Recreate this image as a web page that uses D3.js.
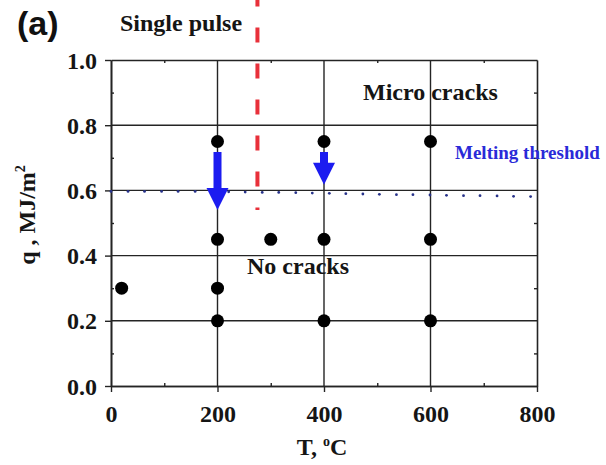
<!DOCTYPE html>
<html>
<head>
<meta charset="utf-8">
<script src="https://cdn.jsdelivr.net/npm/d3@7"></script>
<style>
  html, body { margin: 0; padding: 0; background: #fff; }
  svg { display: block; }
  text { font-family: "Liberation Serif", "Times New Roman", serif; font-weight: bold; }
  text.panel { font-family: "Liberation Sans", Arial, sans-serif; }
</style>
</head>
<body>
<svg id="chart" width="606" height="465"></svg>
<script>
// Crack map: heat flux q vs base temperature T
const xTicks = [0, 200, 400, 600, 800];
const yTicks = [0.0, 0.2, 0.4, 0.6, 0.8, 1.0];
const xMinor = [100, 300, 500, 700];
const yMinor = [0.1, 0.3, 0.5, 0.7, 0.9];
const gridT = [200, 400, 600];
const gridQ = [0.2, 0.4, 0.6, 0.8];

// tested conditions
const pointT = [20, 200, 200, 200, 200, 300, 400, 400, 400, 600, 600, 600];
const pointQ = [0.3, 0.2, 0.3, 0.45, 0.75, 0.45, 0.2, 0.45, 0.75, 0.2, 0.45, 0.75];

// melting threshold markers
const meltT = [0, 32, 63, 95, 126, 158, 189, 221, 252, 284, 315, 347, 378, 410, 441, 473, 504, 536, 567, 599, 630, 662, 693, 725, 756, 788];
const meltQ = [0.600, 0.600, 0.600, 0.600, 0.600, 0.600, 0.600, 0.599, 0.598, 0.597, 0.597, 0.596, 0.595, 0.594, 0.593, 0.592, 0.591, 0.590, 0.590, 0.589, 0.588, 0.587, 0.587, 0.586, 0.585, 0.584];

// shift of the melting boundary
const arrowT = [200, 400];
const arrowFrom = [0.718, 0.718];
const arrowTo = [0.54, 0.617];

// single pulse limit
const pulseT = 275;
const pulseQ = [1.21, 0.54];

const svg = d3.select("#chart");
const m = { left: 111, right: 537, top: 60, bottom: 386 };
const x = d3.scaleLinear().domain([0, 800]).range([m.left, m.right]);
const y = d3.scaleLinear().domain([0, 1]).range([m.bottom, m.top]);

const ink = "#242424";
const textInk = "#151515";

// grid
svg.append("g").selectAll("line").data(gridT).join("line")
  .attr("x1", d => x(d)).attr("x2", d => x(d)).attr("y1", m.top).attr("y2", m.bottom)
  .attr("stroke", ink).attr("stroke-width", 1.4);
svg.append("g").selectAll("line").data(gridQ).join("line")
  .attr("y1", d => y(d)).attr("y2", d => y(d)).attr("x1", m.left).attr("x2", m.right)
  .attr("stroke", ink).attr("stroke-width", 1.4);

// axes
const fmtY = d3.format(".1f");
const axB = svg.append("g").attr("transform", `translate(0,${m.bottom})`)
  .call(d3.axisBottom(x).tickValues(xTicks).tickSize(6).tickSizeOuter(0).tickFormat(d3.format("d")));
const axL = svg.append("g").attr("transform", `translate(${m.left},0)`)
  .call(d3.axisLeft(y).tickValues(yTicks).tickSize(6).tickSizeOuter(0).tickFormat(fmtY));
const axT = svg.append("g").attr("transform", `translate(0,${m.top})`)
  .call(d3.axisTop(x).tickValues(xMinor).tickSize(-3).tickSizeOuter(0).tickFormat(""));
const axR = svg.append("g").attr("transform", `translate(${m.right},0)`)
  .call(d3.axisRight(y).tickValues(yMinor).tickSize(-3).tickSizeOuter(0).tickFormat(""));
const axBm = svg.append("g").attr("transform", `translate(0,${m.bottom})`)
  .call(d3.axisBottom(x).tickValues(xMinor).tickSize(-3).tickSizeOuter(0).tickFormat(""));
const axLm = svg.append("g").attr("transform", `translate(${m.left},0)`)
  .call(d3.axisLeft(y).tickValues(yMinor).tickSize(-3).tickSizeOuter(0).tickFormat(""));

[axB, axL, axT, axR, axBm, axLm].forEach(g => {
  g.select(".domain").attr("stroke", ink).attr("stroke-width", 1.6);
  g.selectAll(".tick line").attr("stroke", ink).attr("stroke-width", 1.4);
  g.selectAll(".tick text").attr("fill", textInk).attr("font-size", 24);
});
axB.selectAll(".tick text").attr("dy", null).attr("y", 36);
axL.selectAll(".tick text").attr("x", -14).attr("dy", "0.34em");

// melting threshold markers
svg.append("g").selectAll("circle").data(meltT).join("circle")
  .attr("cx", d => x(d)).attr("cy", (d, i) => y(meltQ[i]) + 1)
  .attr("r", 1.4).attr("fill", "#27328a");

// single pulse limit
svg.append("line")
  .attr("x1", x(pulseT)).attr("x2", x(pulseT))
  .attr("y1", y(pulseQ[0])).attr("y2", y(pulseQ[1]))
  .attr("stroke", "#e8303a").attr("stroke-width", 4)
  .attr("stroke-dasharray", "15,21");

// points
svg.append("g").selectAll("circle").data(pointT).join("circle")
  .attr("cx", d => x(d)).attr("cy", (d, i) => y(pointQ[i]))
  .attr("r", 6.5).attr("fill", "#000");

// arrows
const shaftW = 8, headW = 22, headL = 22;
svg.append("g").selectAll("path").data(arrowT).join("path")
  .attr("d", (d, i) => {
    const cx = x(d), y0 = y(arrowFrom[i]), y1 = y(arrowTo[i]);
    const yh = y1 - headL;
    return `M${cx - shaftW / 2},${y0} L${cx + shaftW / 2},${y0} L${cx + shaftW / 2},${yh} L${cx + headW / 2},${yh} L${cx},${y1} L${cx - headW / 2},${yh} L${cx - shaftW / 2},${yh} Z`;
  })
  .attr("fill", "#1c1cf0");

// labels
svg.append("text").attr("class", "panel").attr("x", 17).attr("y", 35)
  .attr("font-size", 34).attr("fill", "#111").text("(a)");
svg.append("text").attr("x", 120).attr("y", 31).attr("font-size", 24).attr("fill", textInk).text("Single pulse");
svg.append("text").attr("x", 363).attr("y", 100).attr("font-size", 24).attr("fill", textInk).text("Micro cracks");
svg.append("text").attr("x", 247).attr("y", 274).attr("font-size", 24).attr("fill", textInk).text("No cracks");
svg.append("text").attr("x", 455).attr("y", 159).attr("font-size", 19).attr("fill", "#2a2ad8").text("Melting threshold");

const xl = svg.append("text").attr("x", 322).attr("y", 455).attr("text-anchor", "middle")
  .attr("font-size", 24).attr("fill", textInk);
xl.append("tspan").text("T, ");
xl.append("tspan").attr("font-size", 14).attr("dy", -9).text("o");
xl.append("tspan").attr("dy", 9).text("C");

const yl = svg.append("text").attr("transform", "translate(35,215) rotate(-90)")
  .attr("text-anchor", "middle").attr("font-size", 24).attr("fill", textInk);
yl.append("tspan").text("q , MJ/m");
yl.append("tspan").attr("font-size", 14).attr("dy", -10).text("2");
</script>
</body>
</html>
